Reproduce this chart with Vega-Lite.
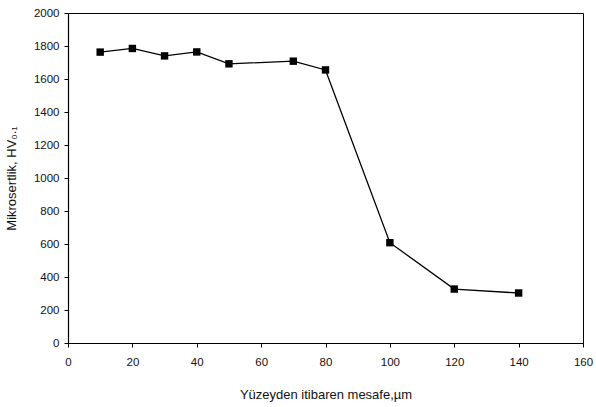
{
  "$schema": "https://vega.github.io/schema/vega-lite/v6.json",
  "width": 515,
  "height": 330,
  "autosize": "none",
  "padding": {"left": 68, "top": 13, "right": 13, "bottom": 64},
  "background": "white",
  "config": {
    "font": "Liberation Sans",
    "view": {"stroke": "#000000", "strokeWidth": 1},
    "axis": {
      "grid": false,
      "domainColor": "#000000",
      "domainWidth": 1.2,
      "tickColor": "#000000",
      "tickSize": 4,
      "tickWidth": 1,
      "labelFont": "Liberation Sans",
      "labelFontSize": 11.5,
      "labelColor": "#111111",
      "labelFlush": false,
      "labelOverlap": false,
      "titleFont": "Liberation Sans",
      "titleFontSize": 13,
      "titleFontWeight": "normal",
      "titleColor": "#111111"
    }
  },
  "data": {
    "values": [
      {"distance": 10, "hardness": 1763},
      {"distance": 20, "hardness": 1785},
      {"distance": 30, "hardness": 1740},
      {"distance": 40, "hardness": 1764},
      {"distance": 50, "hardness": 1692},
      {"distance": 70, "hardness": 1708},
      {"distance": 80, "hardness": 1655},
      {"distance": 100, "hardness": 608},
      {"distance": 120, "hardness": 327},
      {"distance": 140, "hardness": 303}
    ]
  },
  "encoding": {
    "x": {
      "field": "distance",
      "type": "quantitative",
      "scale": {"domain": [0, 160], "nice": false},
      "axis": {
        "values": [0, 20, 40, 60, 80, 100, 120, 140, 160],
        "format": "d",
        "labelPadding": 9,
        "titlePadding": 21,
        "title": "Yüzeyden itibaren mesafe,µm"
      }
    },
    "y": {
      "field": "hardness",
      "type": "quantitative",
      "scale": {"domain": [0, 2000], "nice": false},
      "axis": {
        "values": [0, 200, 400, 600, 800, 1000, 1200, 1400, 1600, 1800, 2000],
        "format": "d",
        "labelPadding": 5,
        "titlePadding": 15,
        "title": "Mikrosertlik, HV₀.₁"
      }
    }
  },
  "layer": [
    {"mark": {"type": "line", "color": "#000000", "strokeWidth": 1.3}},
    {"mark": {"type": "point", "shape": "square", "filled": true, "color": "#000000", "opacity": 1, "size": 55}}
  ]
}
